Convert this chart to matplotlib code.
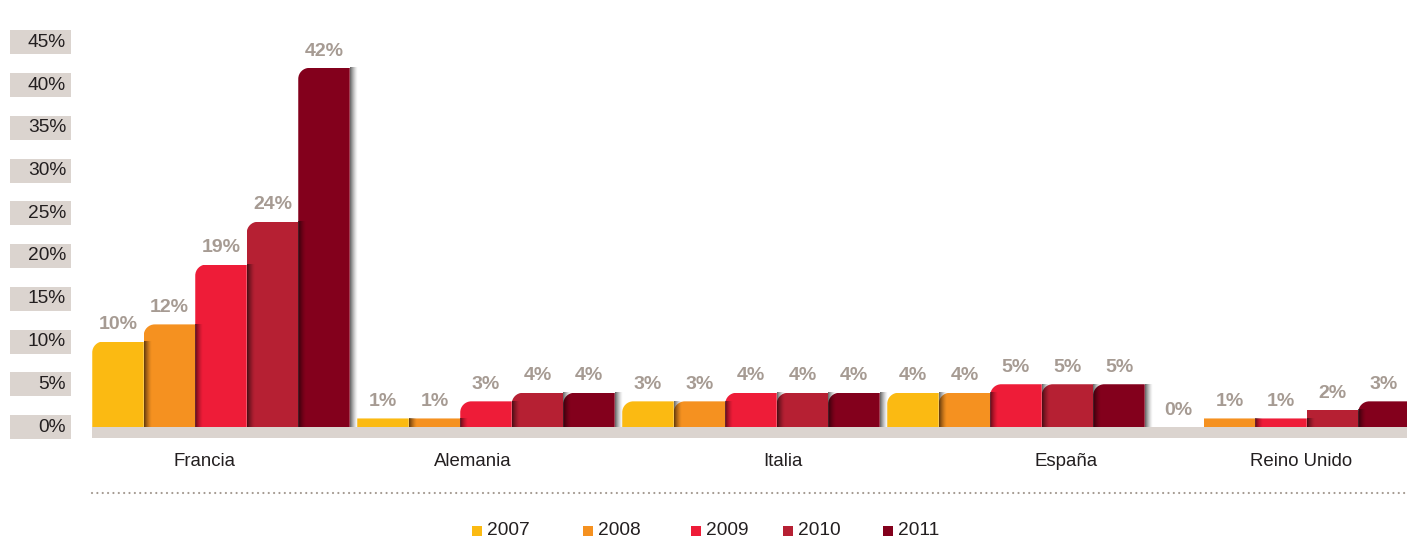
import numpy as np
import matplotlib
matplotlib.use('Agg')
import matplotlib.pyplot as plt
from matplotlib.patches import Rectangle, PathPatch
from matplotlib.path import Path
from matplotlib.transforms import blended_transform_factory

plt.rcParams['font.family'] = ['Liberation Sans', 'DejaVu Sans']

# data
countries = ['Francia', 'Alemania', 'Italia', 'España', 'Reino Unido']
years = ['2007', '2008', '2009', '2010', '2011']
v2007 = [10, 1, 3, 4, 0]
v2008 = [12, 1, 3, 4, 1]
v2009 = [19, 3, 4, 5, 1]
v2010 = [24, 4, 4, 5, 2]
v2011 = [42, 4, 4, 5, 3]
series = [v2007, v2008, v2009, v2010, v2011]
yticks = [0, 5, 10, 15, 20, 25, 30, 35, 40, 45]

colors = ['#FBBA12', '#F59120', '#EE1C38', '#B62033', '#83001C']
label_grey = '#A69B93'
box_grey = '#DBD4CF'
text_dark = '#231F20'

# layout (pixels on a 1407x539 canvas)
W, H = 1407, 539
GROUP_PX = 265.0      # distance between country groups
Y_PX = 8.55           # pixels per percentage point
BASE_PX = 427         # baseline, from top
FIRST_CENTER = 221    # centre of first group, from left
bar_w = 51.5 / GROUP_PX
cat_dx = [-0.062, -0.05, 0.12, 0.188, 0.075]
legend_x = [472, 583, 691, 783, 883]


def px_x(n):
    return n / GROUP_PX


def px_y(n):
    return n / Y_PX


fig = plt.figure(figsize=(W / 100, H / 100), dpi=100)
ax = fig.add_axes([0, 0, 1, 1])
xmin, xmax = -px_x(FIRST_CENTER), px_x(W - FIRST_CENTER)
ymin, ymax = -px_y(H - BASE_PX), px_y(BASE_PX)
ax.set_xlim(xmin, xmax)
ax.set_ylim(ymin, ymax)
ax.axis('off')

x = np.arange(len(countries))
x_left = x[0] - 2.5 * bar_w

# grey base band under the bars
ax.add_patch(Rectangle((x_left, -px_y(10.5)), xmax - x_left, px_y(10.5),
                       facecolor=box_grey, edgecolor='none', zorder=1))

# shadow gradient (dark -> transparent)
grad = np.zeros((1, 32, 4))
grad[0, :, 3] = np.linspace(0.7, 0.0, 32) ** 1.4


def rounded_top_left(x0, y0, w, h, rx, ry):
    # bar outline with only the top-left corner rounded
    x1, y1 = x0 + w, y0 + h
    k = 0.45
    verts = [(x0, y0), (x1, y0), (x1, y1), (x0 + rx, y1),
             (x0 + rx * k, y1), (x0, y1 - ry * k), (x0, y1 - ry), (x0, y0)]
    codes = [Path.MOVETO, Path.LINETO, Path.LINETO, Path.LINETO,
             Path.CURVE4, Path.CURVE4, Path.CURVE4, Path.CLOSEPOLY]
    return Path(verts, codes)


for j, (vals, col) in enumerate(zip(series, colors)):
    pos = x + (j - 2) * bar_w
    bars = ax.bar(pos, vals, bar_w, color=col, zorder=2)
    for rect, v in zip(bars, vals):
        x0, y0 = rect.get_x(), rect.get_y()
        w, h = rect.get_width(), rect.get_height()
        if h > 0:
            r = 11 if h / px_y(1) >= 20 else 0
            clip = PathPatch(rounded_top_left(x0, y0, w, h, px_x(r), px_y(r)),
                             transform=ax.transData)
            rect.set_clip_path(clip)
            ax.imshow(grad, extent=[x0 + w, x0 + w + px_x(8), y0, y0 + h],
                      aspect='auto', zorder=3, interpolation='bilinear')
        ax.annotate(f'{v}%', (x0 + w / 2, h), xytext=(0, 6), textcoords='offset points',
                    ha='center', va='bottom', fontsize=14, fontweight='bold',
                    color=label_grey, zorder=4)

# y tick boxes
tr = blended_transform_factory(ax.transAxes, ax.transData)
for t in yticks:
    ax.add_patch(Rectangle((10 / W, t - px_y(12)), 61 / W, px_y(24), transform=tr,
                           facecolor=box_grey, edgecolor='none', zorder=1))
    ax.text(66 / W, t, f'{t}%', transform=tr, ha='right', va='center',
            fontsize=13.8, color=text_dark, zorder=2)

# country labels
for i, name in enumerate(countries):
    ax.text(x[i] + cat_dx[i], -px_y(461 - BASE_PX), name, ha='center', va='center',
            fontsize=13.4, color=text_dark)

# dotted separator
y_dot = -px_y(493 - BASE_PX)
ax.plot([x_left, xmax], [y_dot, y_dot], color='#A39990', lw=1.6,
        linestyle=(0, (0.01, 2.4)), dash_capstyle='round')

# legend
y_leg = 1 - 530.5 / H
for lx, yr, col in zip(legend_x, years, colors):
    fig.patches.append(Rectangle((lx / W, y_leg - 5 / H), 10 / W, 10 / H,
                                 transform=fig.transFigure, facecolor=col, edgecolor='none'))
    fig.text((lx + 15) / W, y_leg, yr, ha='left', va='center', fontsize=13.8, color=text_dark)

fig.savefig('out.png', dpi=100)
